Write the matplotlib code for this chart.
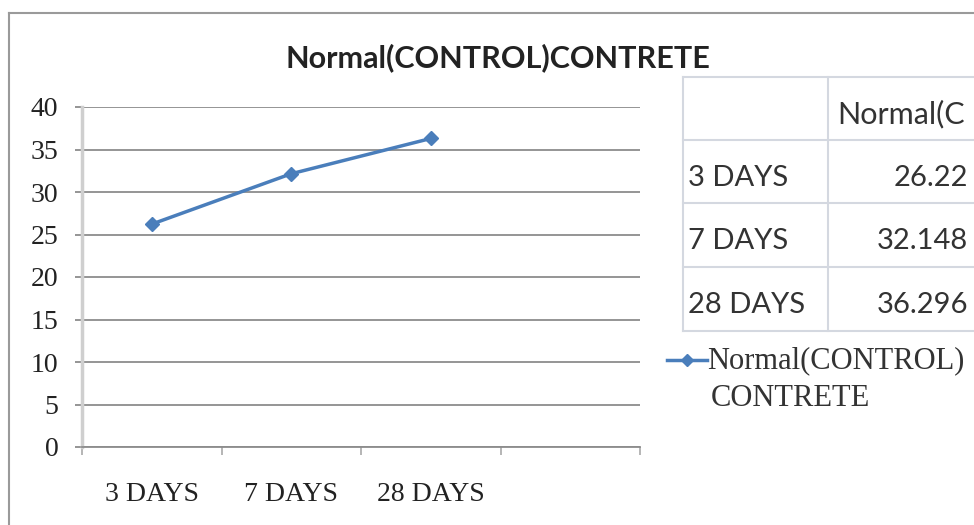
import matplotlib
matplotlib.use("Agg")
from matplotlib import pyplot as plt
from matplotlib.lines import Line2D

days = ['3 DAYS', '7 DAYS', '28 DAYS']
strength = [26.22, 32.148, 36.296]
series_name = 'Normal(CONTROL)CONTRETE'
table_header = 'Normal(C'  # header is cut by the picture edge in the source
yticks = list(range(0, 45, 5))
n_slots = 4  # the category axis has one empty slot at the end

W, H = 974, 525
blue = '#4a7ebb'
grid_gray = '#8c8c8c'
table_gray = '#d4d8e0'
serif = 'Liberation Serif'
sans = 'Lato'


def fx(x):
    return x / W


def fy(y):
    return 1 - y / H


fig = plt.figure(figsize=(W / 100, H / 100), dpi=100)

# chart frame (only top and left edges are inside the picture)
fig.add_artist(Line2D([fx(9), fx(9)], [fy(13), fy(530)], color='#9a9a9a', lw=1.5))
fig.add_artist(Line2D([fx(9), fx(980)], [fy(13), fy(13)], color='#9a9a9a', lw=1.5))

fig.text(fx(498), fy(58), series_name, ha='center', va='center',
         fontsize=22, fontweight='bold', family=sans, color='#222222')

# plot area
ax = fig.add_axes([fx(82), fy(447), fx(640) - fx(82), fy(107) - fy(447)])
xs = [i + 0.5 for i in range(len(days))]
ax.plot(xs, strength, color=blue, lw=2.5, marker='D', markersize=7,
        markerfacecolor=blue, markeredgecolor=blue, zorder=3)

ax.set_xlim(0, n_slots)
ax.set_ylim(0, 40)
ax.set_yticks(yticks)
ax.set_yticklabels([str(v) for v in yticks], family=serif, fontsize=20, color='#222222')
ax.tick_params(axis='y', length=5, width=1.3, color=grid_gray, pad=12)
ax.yaxis.grid(True, color=grid_gray, lw=1.3)
ax.set_axisbelow(True)

ax.set_xticks(range(n_slots + 1))
ax.set_xticklabels([])
ax.set_xticks(xs, minor=True)
ax.set_xticklabels(days, minor=True, family=serif, fontsize=20, color='#222222')
ax.tick_params(axis='x', which='major', length=6, width=1.3, color='#b0b0b0')
ax.tick_params(axis='x', which='minor', length=0, pad=25)

for side in ['top', 'right']:
    ax.spines[side].set_visible(False)
ax.spines['left'].set_color('#cfcfcf')
ax.spines['left'].set_linewidth(2.5)
ax.spines['bottom'].set_color(grid_gray)
ax.spines['bottom'].set_linewidth(1.3)

# data table on the right (cut off by the picture edge)
row_lines = [77, 140, 203, 267, 331]
tab_left, tab_div, tab_right = 683, 828, 990
for y in row_lines:
    fig.add_artist(Line2D([fx(tab_left), fx(tab_right)], [fy(y), fy(y)],
                          color=table_gray, lw=1.5))
for x in [tab_left, tab_div]:
    fig.add_artist(Line2D([fx(x), fx(x)], [fy(row_lines[0]), fy(row_lines[-1])],
                          color=table_gray, lw=1.5))

fig.text(fx(837), fy(114), table_header, ha='left', va='center',
         fontsize=22, family=sans, color='#333333')
for i, (d, v) in enumerate(zip(days, strength)):
    yc = (row_lines[i + 1] + row_lines[i + 2]) / 2 + 6
    fig.text(fx(688), fy(yc), d, ha='left', va='center',
             fontsize=21, family=sans, color='#333333')
    fig.text(fx(968), fy(yc), '{:g}'.format(v), ha='right', va='center',
             fontsize=21, family=sans, color='#333333')

# legend
fig.add_artist(Line2D([fx(667), fx(687), fx(707)], [fy(360)] * 3, color=blue,
                      lw=2.5, marker='D', markersize=6, markevery=[1]))
fig.text(fx(707), fy(361), 'Normal(CONTROL)', ha='left', va='center',
         fontsize=22, family=serif, color='#333333')
fig.text(fx(711), fy(398), 'CONTRETE', ha='left', va='center',
         fontsize=22, family=serif, color='#333333')

fig.savefig('out.png', dpi=100)
